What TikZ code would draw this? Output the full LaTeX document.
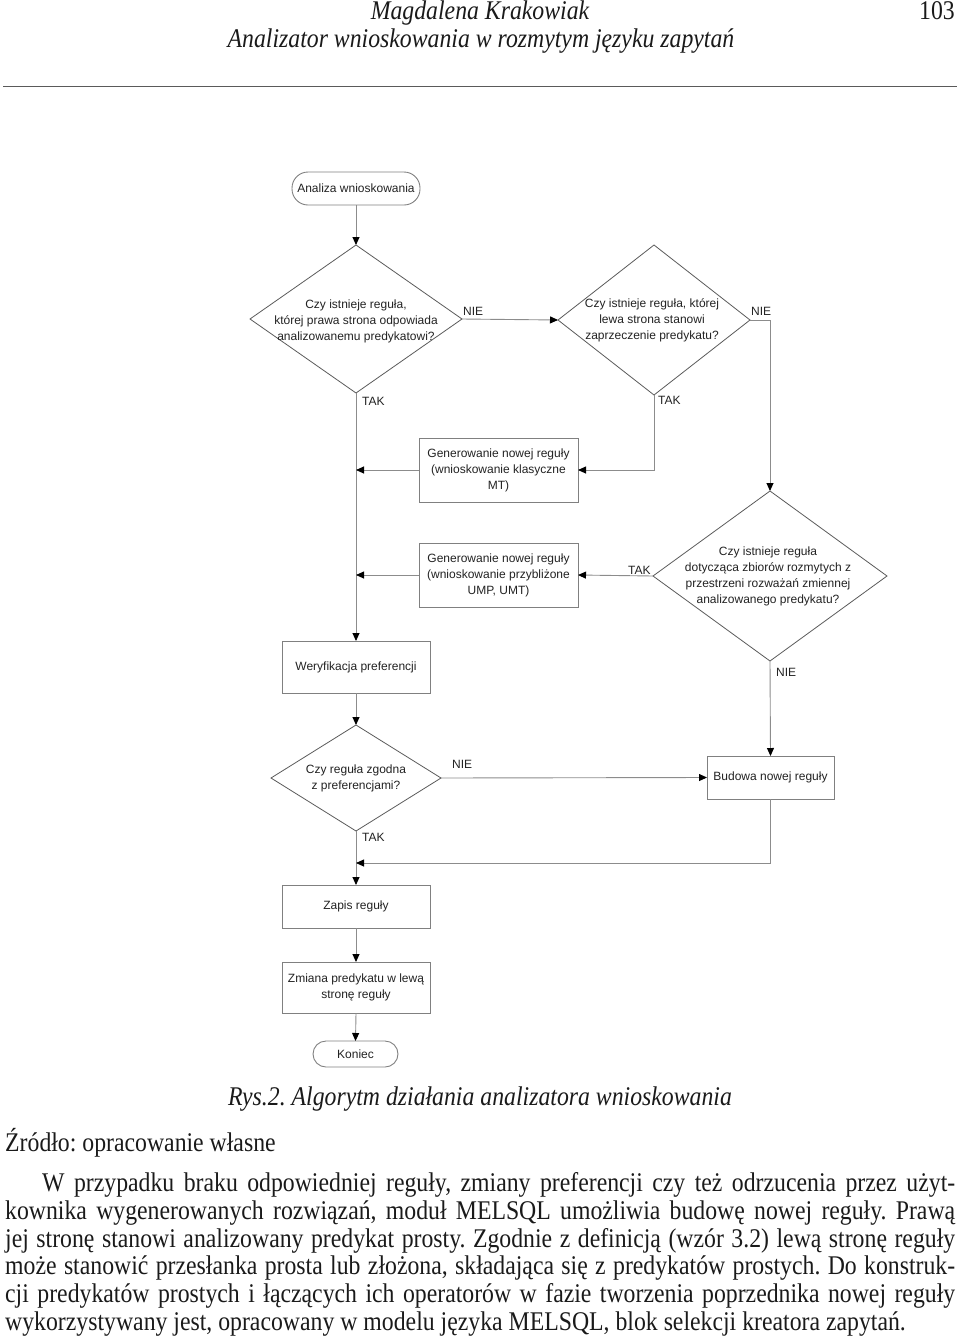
\documentclass[tikz,border=0pt]{standalone}
\usepackage{fontspec}
\setmainfont{Liberation Serif}[FakeStretch=0.88]
\newfontfamily\diagfont{Liberation Sans}
\usetikzlibrary{shapes.geometric,arrows.meta}
\definecolor{conncol}{HTML}{8C8C8C}
\definecolor{boxcol}{HTML}{808080}
\definecolor{diacol}{HTML}{5A5A5A}
\definecolor{txtcol}{HTML}{222222}
\definecolor{bodycol}{HTML}{1A1A1A}
\frenchspacing
\begin{document}
\begin{tikzpicture}[x=1pt,y=-1pt,
  conn/.style={draw=conncol, line width=0.9pt},
  arr/.style={conn, -{Triangle[length=8pt,width=7pt,color=black]}},
  dgtext/.style={font=\diagfont\fontsize{12}{16}\selectfont, text=txtcol},
  procbox/.style={dgtext, draw=boxcol, line width=0.9pt, rectangle, align=center, inner sep=2pt, outer sep=0pt},
  termbox/.style={procbox},
  decision/.style={draw=diacol, line width=0.8pt, diamond, inner sep=0pt, outer sep=0pt},
  dtext/.style={dgtext, align=center, inner sep=0pt},
  lbl/.style={dgtext, inner sep=0pt, anchor=base west},
  serif/.style={inner sep=0pt, text=bodycol, font=\fontsize{27}{28}\selectfont},
  serifit/.style={serif, font=\fontsize{27}{28}\selectfont\itshape}
]
\useasboundingbox (0,0) rectangle (960,1336);

% header
\node[serifit, anchor=base] (h1) at (480,19) {Magdalena Krakowiak};
\node[serifit, anchor=base] (h2) at (481,47) {Analizator wnioskowania w rozmytym języku zapytań};
\node[serif, anchor=base east] (pg) at (955,19) {103};
\draw[draw=diacol, line width=0.8pt] (3,86) -- (957,86);

% flowchart nodes
\node[termbox, rounded corners=16pt, minimum width=128pt, minimum height=33pt] (start) at (356,188.5) {Analiza wnioskowania};

\node[decision, minimum width=212pt, minimum height=148pt] (d1) at (356,319) {};
\node[dtext] (d1t) at (356,321) {Czy istnieje reguła,\\której prawa strona odpowiada\\analizowanemu predykatowi?};

\node[decision, minimum width=192pt, minimum height=150pt] (d2) at (654,320) {};
\node[dtext] (d2t) at (652,320) {Czy istnieje reguła, której\\lewa strona stanowi\\zaprzeczenie predykatu?};

\node[procbox, minimum width=159pt, minimum height=64pt] (b1) at (498.5,470) {Generowanie nowej reguły\\(wnioskowanie klasyczne\\MT)};

\node[decision, minimum width=234pt, minimum height=170pt] (d3) at (770,576) {};
\node[dtext] (d3t) at (768,576) {Czy istnieje reguła\\dotycząca zbiorów rozmytych z\\przestrzeni rozważań zmiennej\\analizowanego predykatu?};

\node[procbox, minimum width=159pt, minimum height=64pt] (b2) at (498.5,575) {Generowanie nowej reguły\\(wnioskowanie przybliżone\\UMP, UMT)};

\node[procbox, minimum width=148pt, minimum height=52pt] (wer) at (356,667) {Weryfikacja preferencji};

\node[decision, minimum width=170pt, minimum height=106pt] (d4) at (356,778) {};
\node[dtext] (d4t) at (356,778) {Czy reguła zgodna\\z preferencjami?};

\node[procbox, minimum width=127pt, minimum height=43pt] (bud) at (770.5,777.5) {Budowa nowej reguły};

\node[procbox, minimum width=148pt, minimum height=43pt] (zap) at (356,906.5) {Zapis reguły};
\node[procbox, minimum width=148pt, minimum height=51pt] (zm) at (356,987.5) {Zmiana predykatu w lewą\\stronę reguły};
\node[termbox, rounded corners=13pt, minimum width=85pt, minimum height=26pt] (kon) at (355.5,1054) {Koniec};

% connectors
\draw[arr] (start.south) -- (d1.north);
\draw[arr] (d1.east) -- (d2.west);
\draw[arr] (d2.east) -- (770,320) -- (d3.north);
\draw[arr] (d1.south) -- (wer.north);
\draw[arr] (d2.south) |- (b1.east);
\draw[arr] (b1.west) -- (b1.west -| d1.south);
\draw[arr] (d3.west) -- (b2.east);
\draw[arr] (b2.west) -- (b2.west -| d1.south);
\draw[arr] (d3.south) -- (bud.north);
\draw[arr] (wer.south) -- (d4.north);
\draw[arr] (d4.east) -- (bud.west);
\draw[arr] (d4.south) -- (zap.north);
\coordinate (bret) at (770.5,863);
\draw[arr] (bud.south) -- (bret) -- (bret -| d4.south);
\draw[arr] (zap.south) -- (zm.north);
\draw[arr] (zm.south) -- (kon.north);

% branch labels
\node[lbl] (l1) at (463,315.5) {NIE};
\node[lbl] (l2) at (751,315.5) {NIE};
\node[lbl] (l3) at (362,405.5) {TAK};
\node[lbl] (l4) at (658,404.5) {TAK};
\node[lbl] (l5) at (628,574) {TAK};
\node[lbl] (l6) at (776,676) {NIE};
\node[lbl] (l7) at (452,768) {NIE};
\node[lbl] (l8) at (362,841) {TAK};

% caption and body
\node[serifit, anchor=base] (cap) at (480,1105) {Rys.2. Algorytm działania analizatora wnioskowania};
\node[serif, anchor=base west] (src) at (5,1151) {Źródło: opracowanie własne};
\node[serif, anchor=base west] (p1) at (5,1191) {\makebox[950pt][s]{\hspace*{37pt}W przypadku braku odpowiedniej reguły, zmiany preferencji czy też odrzucenia przez użyt-}};
\node[serif, anchor=base west] (p2) at (5,1219) {\makebox[950pt][s]{kownika wygenerowanych rozwiązań, moduł MELSQL umożliwia budowę nowej reguły. Prawą}};
\node[serif, anchor=base west] (p3) at (5,1247) {\makebox[950pt][s]{jej stronę stanowi analizowany predykat prosty. Zgodnie z definicją (wzór 3.2) lewą stronę reguły}};
\node[serif, anchor=base west] (p4) at (5,1274) {\makebox[950pt][s]{może stanowić przesłanka prosta lub złożona, składająca się z predykatów prostych. Do konstruk-}};
\node[serif, anchor=base west] (p5) at (5,1302) {\makebox[950pt][s]{cji predykatów prostych i łączących ich operatorów w fazie tworzenia poprzednika nowej reguły}};
\node[serif, anchor=base west] (p6) at (5,1330) {wykorzystywany jest, opracowany w modelu języka MELSQL, blok selekcji kreatora zapytań.};
\end{tikzpicture}
\end{document}
